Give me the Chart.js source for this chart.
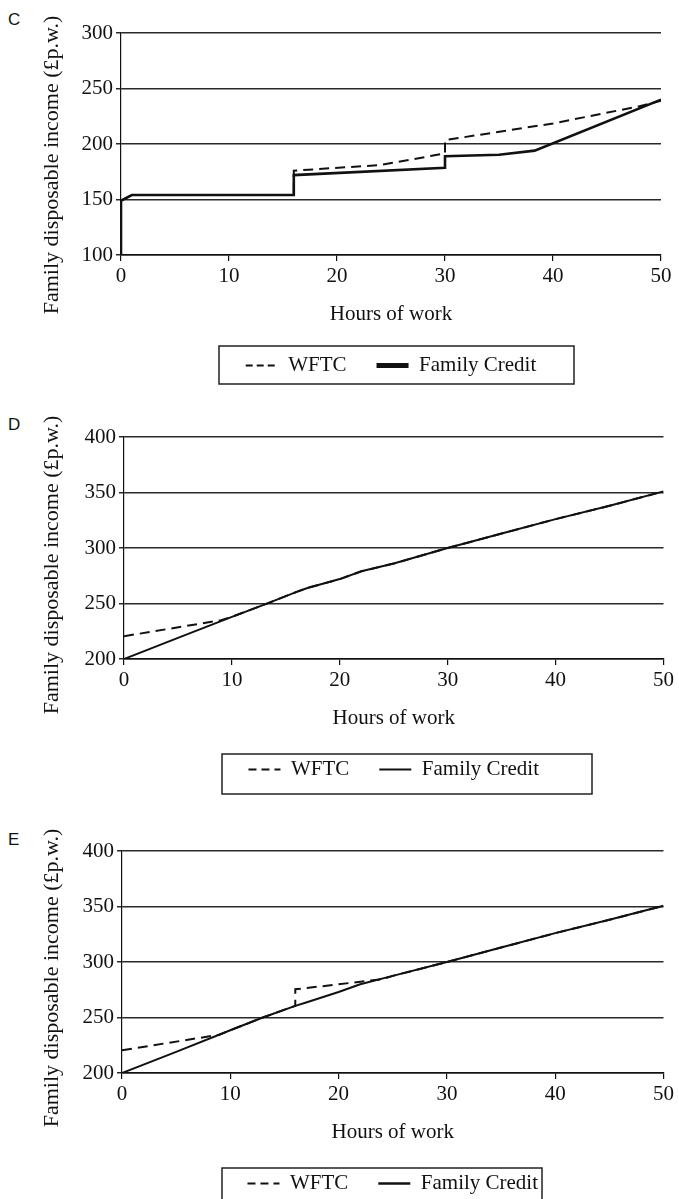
<!DOCTYPE html>
<html>
<head>
<meta charset="utf-8">
<script src="https://cdn.jsdelivr.net/npm/chart.js@4"></script>
<style>
  html, body { margin: 0; padding: 0; background: #fff; }
  body { position: relative; width: 679px; height: 1199px; overflow: hidden; }
  canvas { position: absolute; left: 0; }
  .panel { position: absolute; left: 8px; font: 17px "Liberation Sans", Arial, sans-serif; color: #111; }
</style>
</head>
<body>
<div class="panel" style="top:10px">C</div>
<div class="panel" style="top:415px">D</div>
<div class="panel" style="top:830px">E</div>
<canvas id="chartC" width="679" height="400" style="top:0px"></canvas>
<canvas id="chartD" width="679" height="400" style="top:404px"></canvas>
<canvas id="chartE" width="679" height="400" style="top:818px"></canvas>
<script>
  const seriesNames = ["WFTC", "Family Credit"];
  const xTitle = "Hours of work";
  const yTitle = "Family disposable income (£p.w.)";

  // panel C
  const cWftcHours = [0, 1, 16, 16, 24, 30, 30, 40, 48, 50];
  const cWftcIncome = [149, 154, 154, 176, 181, 191.5, 203.5, 218.5, 234, 239];
  const cFcHours = [0, 0, 1, 16, 16, 30, 30, 35, 38.3, 50];
  const cFcIncome = [100, 149, 154, 154, 172, 178.5, 189, 190.3, 194, 240];

  // panel D
  const dWftcHours = [0, 9, 10, 13, 16, 17, 20, 22, 25, 30, 35, 40, 45, 50];
  const dWftcIncome = [220.5, 235, 238, 249, 260.5, 264, 272, 279, 286, 300, 313, 326, 338, 351];
  const dFcHours = [0, 5, 10, 13, 16, 17, 20, 22, 25, 30, 35, 40, 45, 50];
  const dFcIncome = [200, 219, 238, 249, 260.5, 264, 272, 279, 286, 300, 313, 326, 338, 351];

  // panel E
  const eWftcHours = [0, 9, 10, 13, 16, 16, 17, 24, 25, 30, 35, 40, 45, 50];
  const eWftcIncome = [220.5, 234.5, 238.5, 250, 260.5, 275.5, 276.5, 284.5, 287.5, 300, 313, 326, 338, 350.7];
  const eFcHours = [0, 5, 10, 13, 16, 17, 20, 22, 25, 30, 35, 40, 45, 50];
  const eFcIncome = [200, 219, 238.5, 250, 260.5, 263.5, 273, 280, 287.5, 300, 313, 326, 338, 350.7];

  const fontFamily = '"Liberation Serif", "Times New Roman", serif';
  const ink = "#111";
  const textFont = { family: fontFamily, size: 21, lineHeight: 1 };

  const toPoints = (xs, ys) => xs.map((x, i) => ({ x, y: ys[i] }));

  // rotated y title, centred a little below the plot like the original
  const sideTitle = {
    id: "sideTitle",
    afterDraw(chart, args, opts) {
      const { ctx, chartArea } = chart;
      ctx.save();
      ctx.translate(opts.x, (chartArea.top + chartArea.bottom) / 2 + opts.shift);
      ctx.rotate(-Math.PI / 2);
      ctx.font = `22px ${fontFamily}`;
      ctx.fillStyle = ink;
      ctx.textAlign = "center";
      ctx.textBaseline = "middle";
      ctx.fillText(opts.text, 0, 0);
      ctx.restore();
    },
  };

  // frame round the legend
  const legendBox = {
    id: "legendBox",
    afterDraw(chart, args, opts) {
      const boxes = chart.legend.legendHitBoxes;
      if (!boxes || !boxes.length) return;
      const top = Math.min(...boxes.map((b) => b.top));
      const bottom = Math.max(...boxes.map((b) => b.top + b.height));
      const ctx = chart.ctx;
      ctx.save();
      ctx.strokeStyle = "#222";
      ctx.lineWidth = 1.5;
      const y0 = top - opts.padTop;
      ctx.strokeRect(opts.left, y0, opts.right - opts.left, bottom + opts.padBottom - y0);
      ctx.restore();
    },
  };

  function makeChart(id, p) {
    return new Chart(document.getElementById(id), {
      type: "line",
      data: {
        datasets: [
          {
            label: seriesNames[0],
            data: toPoints(p.wftcHours, p.wftcIncome),
            borderColor: ink,
            borderWidth: p.wftcWidth,
            borderDash: [10, 6],
            pointRadius: 0,
            tension: 0,
          },
          {
            label: seriesNames[1],
            data: toPoints(p.fcHours, p.fcIncome),
            borderColor: ink,
            borderWidth: p.fcWidth,
            pointRadius: 0,
            tension: 0,
          },
        ],
      },
      options: {
        responsive: false,
        animation: false,
        layout: { padding: { top: 33, right: p.right, left: 0, bottom: 14 } },
        scales: {
          x: {
            type: "linear",
            min: 0,
            max: 50,
            ticks: { stepSize: 10, padding: 5, color: ink, font: textFont },
            grid: { drawOnChartArea: false, tickLength: 6, color: ink, lineWidth: 1.2 },
            border: { color: ink, width: 1.5 },
            title: { display: true, text: xTitle, color: ink, font: textFont, padding: 0 },
            afterFit: (s) => { s.height = 70; },
          },
          y: {
            min: p.yMin,
            max: p.yMax,
            ticks: { stepSize: 50, padding: 3, color: ink, font: textFont },
            grid: { color: "#2a2a2a", lineWidth: 1.5, tickLength: 5 },
            border: { color: ink, width: 1.2 },
            afterFit: (s) => { s.width = p.left; },
          },
        },
        plugins: {
          tooltip: { enabled: false },
          legend: {
            position: "bottom",
            fullSize: false,
            labels: {
              usePointStyle: true,
              pointStyle: "line",
              pointStyleWidth: 32,
              padding: 30,
              color: ink,
              font: textFont,
              generateLabels(chart) {
                const items = Chart.defaults.plugins.legend.labels.generateLabels(chart);
                items[0].lineDash = p.legendDash;
                items[0].lineWidth = 2;
                items[1].lineDash = [];
                items[1].lineWidth = p.fcLegendWidth;
                return items;
              },
            },
          },
          sideTitle: { text: yTitle, x: 52, shift: p.titleShift },
          legendBox: { left: p.boxLeft, right: p.boxRight, padTop: p.boxPadTop, padBottom: p.boxPadBottom },
        },
      },
      plugins: [sideTitle, legendBox],
    });
  }

  makeChart("chartC", {
    wftcHours: cWftcHours, wftcIncome: cWftcIncome, fcHours: cFcHours, fcIncome: cFcIncome,
    yMin: 100, yMax: 300, left: 121, right: 18, wftcWidth: 2, fcWidth: 2.6, fcLegendWidth: 5,
    legendDash: [7, 4], titleShift: 21, boxLeft: 219, boxRight: 574, boxPadTop: 9, boxPadBottom: 8,
  });

  makeChart("chartD", {
    wftcHours: dWftcHours, wftcIncome: dWftcIncome, fcHours: dFcHours, fcIncome: dFcIncome,
    yMin: 200, yMax: 400, left: 124, right: 15, wftcWidth: 2, fcWidth: 2, fcLegendWidth: 2.2,
    legendDash: [8, 5], titleShift: 17, boxLeft: 222, boxRight: 592, boxPadTop: 5, boxPadBottom: 14,
  });

  makeChart("chartE", {
    wftcHours: eWftcHours, wftcIncome: eWftcIncome, fcHours: eFcHours, fcIncome: eFcIncome,
    yMin: 200, yMax: 400, left: 122, right: 15, wftcWidth: 2, fcWidth: 2, fcLegendWidth: 2.4,
    legendDash: [8, 5], titleShift: 16, boxLeft: 222, boxRight: 542, boxPadTop: 5, boxPadBottom: 14,
  });
</script>
</body>
</html>
